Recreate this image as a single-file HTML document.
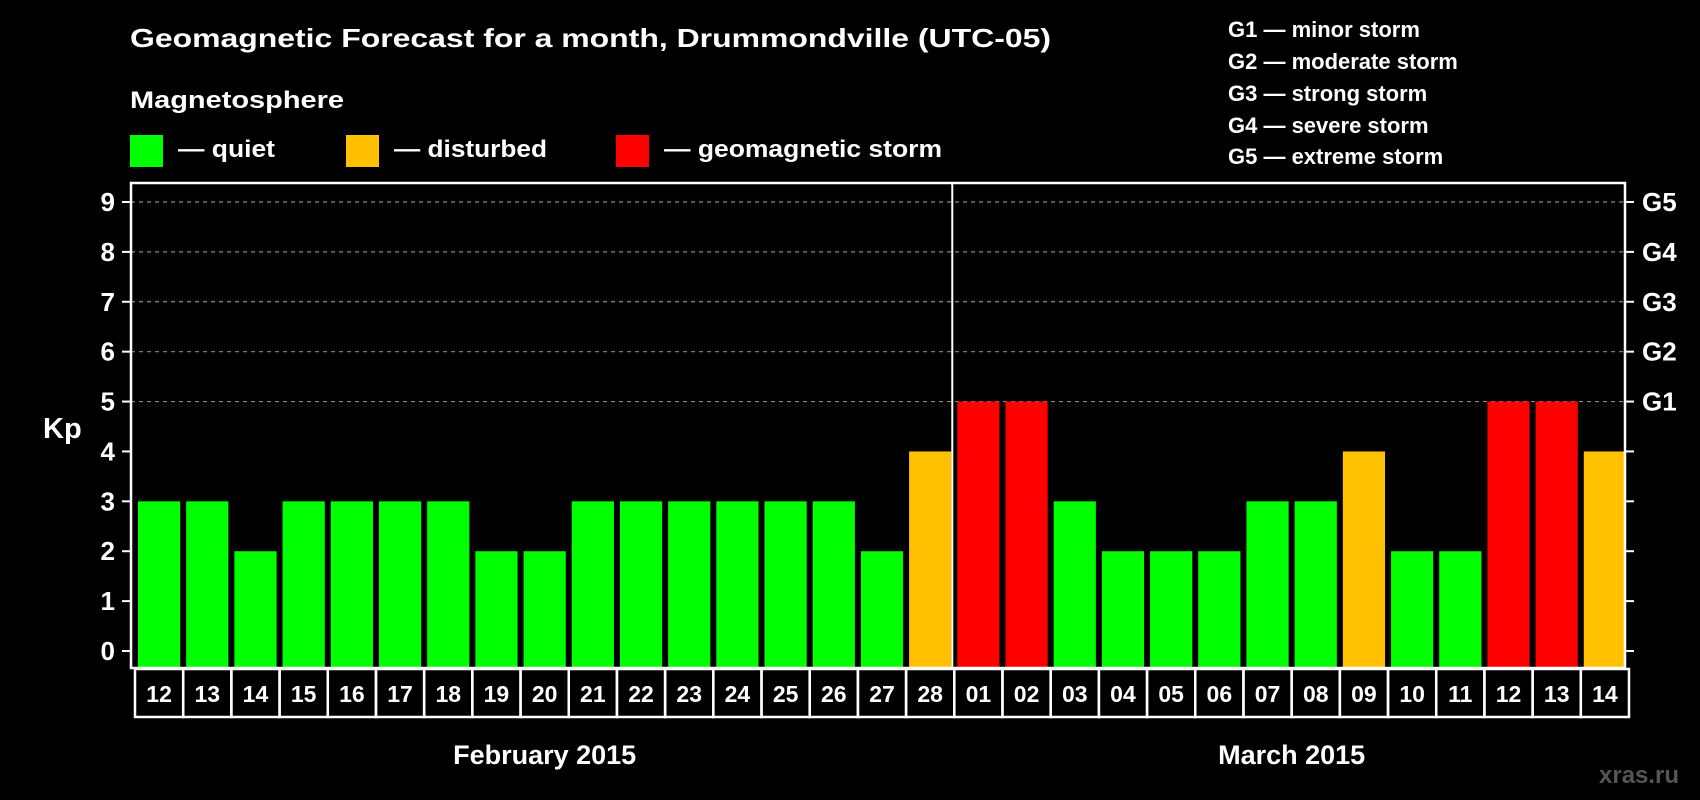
<!DOCTYPE html>
<html><head><meta charset="utf-8"><style>
html,body{margin:0;padding:0;background:#000;}
svg{display:block;font-family:"Liberation Sans",Arial,sans-serif;font-weight:bold;}
</style></head><body>
<svg id="chart" width="1700" height="800" viewBox="0 0 1700 800">
<rect width="1700" height="800" fill="#000"/>
<text x="130" y="47" fill="#fff" font-size="26" textLength="921" lengthAdjust="spacingAndGlyphs">Geomagnetic Forecast for a month, Drummondville (UTC-05)</text>
<text x="130" y="108" fill="#fff" font-size="24" textLength="214" lengthAdjust="spacingAndGlyphs">Magnetosphere</text>
<g>
<rect x="130" y="135" width="33" height="32" fill="#00ff00"/>
<text x="178" y="157" fill="#fff" font-size="24" textLength="97" lengthAdjust="spacingAndGlyphs">— quiet</text>
</g>
<g>
<rect x="346" y="135" width="33" height="32" fill="#ffc000"/>
<text x="394" y="157" fill="#fff" font-size="24" textLength="153" lengthAdjust="spacingAndGlyphs">— disturbed</text>
</g>
<g>
<rect x="616" y="135" width="33" height="32" fill="#ff0000"/>
<text x="664" y="157" fill="#fff" font-size="24" textLength="278" lengthAdjust="spacingAndGlyphs">— geomagnetic storm</text>
</g>
<g fill="#fff" font-size="22">
<text x="1228" y="37">G1 — minor storm</text>
<text x="1228" y="69">G2 — moderate storm</text>
<text x="1228" y="101">G3 — strong storm</text>
<text x="1228" y="133">G4 — severe storm</text>
<text x="1228" y="164">G5 — extreme storm</text>
</g>
<text x="43" y="438" fill="#fff" font-size="29">Kp</text>
<text x="1599" y="783" fill="#555" font-size="24">xras.ru</text>
<g id="grid"></g>
<g id="bars"></g>
<g id="frame"></g>
</svg>
<script>
const days = ["12","13","14","15","16","17","18","19","20","21","22","23","24","25","26","27","28","01","02","03","04","05","06","07","08","09","10","11","12","13","14"];
const kpValues = [3,3,2,3,3,3,3,2,2,3,3,3,3,3,3,2,4,5,5,3,2,2,2,3,3,4,2,2,5,5,4];
const yTicks = [0,1,2,3,4,5,6,7,8,9];
const gLevels = ["G1","G2","G3","G4","G5"];
const months = ["February 2015","March 2015"];
const monthSplit = 17;

const NS="http://www.w3.org/2000/svg";
const L=131,R=1625,T=183,B=668,Y0=651,Y9=202;
const step=(R-L)/days.length;
function xs(i){return L+i*step;}
function ys(v){return Y0-(Y0-Y9)*v/9;}
function mk(tag,attrs,parent,text){const e=document.createElementNS(NS,tag);for(const k in attrs)e.setAttribute(k,attrs[k]);if(text!==undefined)e.textContent=text;parent.appendChild(e);return e;}
const grid=document.getElementById('grid'),bars=document.getElementById('bars'),frame=document.getElementById('frame');

yTicks.forEach(v=>{
  const y=ys(v);
  if(v>=5){
    const gl=mk('line',{x1:L,x2:R,y1:y,y2:y,stroke:'#888','stroke-width':1.2,'stroke-dasharray':'4,4'},grid);
    
    
  }
  const tk=mk('line',{x1:L-9,x2:L,y1:y,y2:y,stroke:'#fff','stroke-width':2},frame);
  
  
  const tr=mk('line',{x1:R,x2:R+9,y1:y,y2:y,stroke:'#fff','stroke-width':2},frame);
  
  
  const lb=mk('text',{x:115,y:y+9,fill:'#fff','font-size':26,'text-anchor':'end'},frame,String(v));
  
  
});
gLevels.forEach((g,i)=>{
  const t=mk('text',{x:1642,y:ys(5+i)+9,fill:'#fff','font-size':26},frame,g);
  
  
});
kpValues.forEach((v,i)=>{
  const col=v>=5?'#ff0000':(v>=4?'#ffc000':'#00ff00');
  const r=mk('rect',{x:xs(i)+7,y:ys(v),width:step-6,height:B-ys(v),fill:col},bars);
  
  
  const bx=mk('rect',{x:xs(i)+4,y:669,width:step,height:48,fill:'none',stroke:'#fff','stroke-width':2.5},frame);
  
  
  const dt=mk('text',{x:xs(i)+4+step/2,y:702,fill:'#fff','font-size':23,'text-anchor':'middle'},frame,days[i]);
  
  
});
const ax=mk('rect',{x:L,y:T,width:R-L,height:B-T,fill:'none',stroke:'#fff','stroke-width':2.5},frame);


const dv=mk('line',{x1:xs(monthSplit)+2,x2:xs(monthSplit)+2,y1:T,y2:B,stroke:'#fff','stroke-width':2},frame);


const m1=mk('text',{x:(xs(0)+xs(monthSplit))/2+4,y:764,fill:'#fff','font-size':27,'text-anchor':'middle'},frame,months[0]);


const m2=mk('text',{x:(xs(monthSplit)+xs(days.length))/2+4,y:764,fill:'#fff','font-size':27,'text-anchor':'middle'},frame,months[1]);


</script>
</body></html>
